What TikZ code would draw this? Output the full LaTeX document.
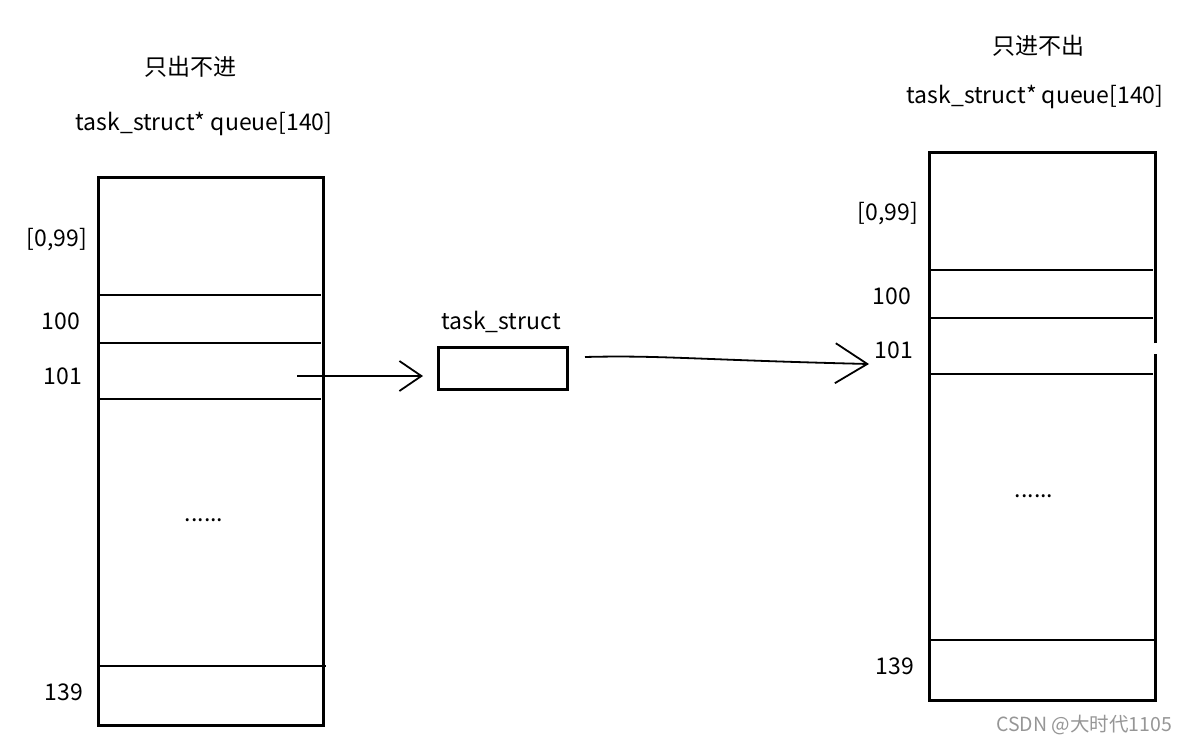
\documentclass[tikz,border=0pt]{standalone}
\usepackage{fontspec}
\setmainfont{Noto Sans CJK SC}
\usetikzlibrary{arrows.meta}
\definecolor{wm}{RGB}{150,150,150}
\tikzset{
  lbl/.style={inner sep=0pt, font=\fontsize{23}{26}\selectfont},
  frame/.style={line width=3pt},
  row/.style={line width=2pt}
}
\begin{document}
\begin{tikzpicture}[x=1pt,y=-1pt]
\useasboundingbox (0,0) rectangle (1185,744);

% ---- left array: only out, never in ----
\node[lbl] (ltitle) at (190,67) {只出不进};
\node[lbl] (ldecl) at (204,124) {task\_struct* queue[140]};
\draw[frame] (98,177) rectangle (323,725);
\draw[row] (98,295) -- (321,295);
\draw[row] (98,343) -- (321,343);
\draw[row] (98,399) -- (321,399);
\draw[row] (98,666) -- (326,666);
\node[lbl] (l099) at (57,240) {[0,99]};
\node[lbl] (l100) at (61,321) {100};
\node[lbl] (l101) at (63,376) {101};
\node[lbl] (ldots) at (204,520) {......};
\node[lbl] (l139) at (64,692) {139};

% ---- the task being moved ----
\node[lbl] (tslabel) at (501,322) {task\_struct};
\node[draw, line width=3pt, minimum width=129pt, minimum height=42pt, inner sep=0pt] (ts) at (502.5,368) {};

% ---- right array: only in, never out ----
\node[lbl] (rtitle) at (1038,46) {只进不出};
\node[lbl] (rdecl) at (1035,97) {task\_struct* queue[140]};
\draw[frame] (1155,343) -- (1155,152) -- (929,152) -- (929,700) -- (1155,700) -- (1155,354);
\draw[row] (929,270) -- (1153,270);
\draw[row] (929,318) -- (1153,318);
\draw[row] (929,374) -- (1153,374);
\draw[row] (929,640) -- (1157,640);
\node[lbl] (r099) at (888,214) {[0,99]};
\node[lbl] (r100) at (892,296) {100};
\node[lbl] (r101) at (894,350) {101};
\node[lbl] (rdots) at (1034,496) {......};
\node[lbl] (r139) at (895,666) {139};

% ---- pointers ----
\coordinate (slot) at (297,376);
\coordinate (tsin) at (423,376);
\coordinate (tsout) at (585,357);
\coordinate (dest) at (869,364);
\draw[line width=1.8pt, -{Straight Barb[length=22pt, width=30pt]}] (slot) -- (tsin);
\draw[line width=1.8pt, -{Straight Barb[length=32pt, width=40pt]}] (tsout) .. controls (660,355) and (700,360) .. (dest);

\node[inner sep=0pt, text=wm, font=\fontsize{19.5}{22}\selectfont] (mark) at (1084,725) {CSDN @大时代1105};
\end{tikzpicture}
\end{document}
